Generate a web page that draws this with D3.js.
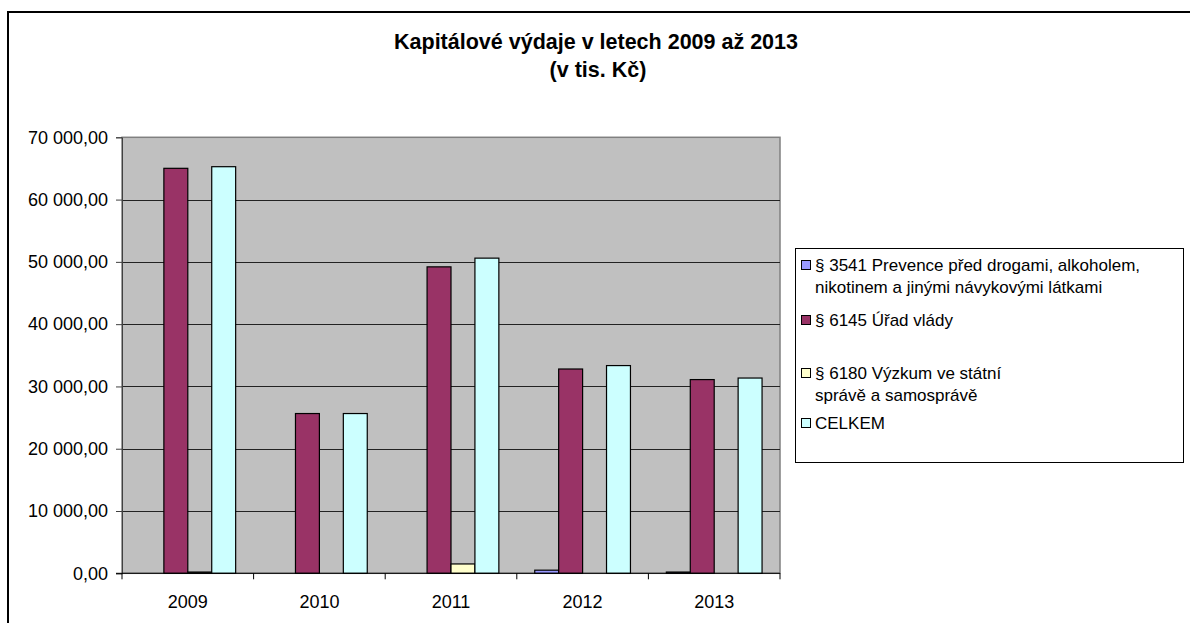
<!DOCTYPE html>
<html>
<head>
<meta charset="utf-8">
<script src="https://cdn.jsdelivr.net/npm/d3@7"></script>
<style>
  body { margin: 0; background: #fff; }
  text { font-family: "Liberation Sans", Arial, sans-serif; fill: #000; }
</style>
</head>
<body>
<script>
var width = 1190, height = 623;

// data
var years = ["2009", "2010", "2011", "2012", "2013"];
var seriesNames = [
  ["§ 3541 Prevence před drogami, alkoholem,", "nikotinem a jinými návykovými látkami"],
  ["§ 6145 Úřad vlády"],
  ["§ 6180 Výzkum ve státní", "správě a samosprávě"],
  ["CELKEM"]
];
var prevence = [0, 0, 0, 500, 200];
var uradVlady = [65020, 25650, 49200, 32800, 31100];
var vyzkum = [200, 0, 1500, 0, 0];
var celkem = [65280, 25650, 50600, 33350, 31350];
var yTicks = [0, 10000, 20000, 30000, 40000, 50000, 60000, 70000];
var colors = ["#9999ff", "#993366", "#ffffcc", "#ccffff"];

var seriesValues = [prevence, uradVlady, vyzkum, celkem];

var svg = d3.select("body").append("svg")
    .attr("width", width)
    .attr("height", height);

// outer chart frame
svg.append("rect")
    .attr("x", 8).attr("y", 12)
    .attr("width", 1200).attr("height", 700)
    .attr("fill", "#fff")
    .attr("stroke", "#000")
    .attr("stroke-width", 2);

var plotLeft = 122, plotRight = 780, plotTop = 137.3, plotBottom = 573.3;

var xScale = d3.scaleBand().domain(years).range([plotLeft, plotRight]).paddingInner(0).paddingOuter(0);
var xInner = d3.scaleBand().domain(d3.range(4)).range([0, xScale.bandwidth()]).paddingInner(0).paddingOuter(0.75);
var yScale = d3.scaleLinear().domain([0, 70000]).range([plotBottom, plotTop]);

var cz = d3.formatLocale({decimal: ",", thousands: " ", grouping: [3], currency: ["", ""]});
var fmt = cz.format(",.2f");

// plot area
svg.append("rect")
    .attr("x", plotLeft).attr("y", plotTop)
    .attr("width", plotRight - plotLeft).attr("height", plotBottom - plotTop)
    .attr("fill", "#c0c0c0")
    .attr("stroke", "#808080")
    .attr("stroke-width", 1.5);

// gridlines
svg.append("g").selectAll("line")
    .data(yTicks.filter(function(d) { return d > 0 && d < 70000; }))
    .enter().append("line")
    .attr("x1", plotLeft).attr("x2", plotRight)
    .attr("y1", function(d) { return Math.round(yScale(d)) + 0.5; })
    .attr("y2", function(d) { return Math.round(yScale(d)) + 0.5; })
    .attr("stroke", "#222")
    .attr("stroke-width", 1);

// bars
var groups = svg.append("g").selectAll("g")
    .data(years)
    .enter().append("g")
    .attr("transform", function(d) { return "translate(" + xScale(d) + ",0)"; });

groups.selectAll("rect")
    .data(function(d, i) { return seriesValues.map(function(s, k) { return {k: k, v: s[i]}; }).filter(function(e) { return e.v > 0; }); })
    .enter().append("rect")
    .attr("x", function(d) { return xInner(d.k); })
    .attr("width", xInner.bandwidth())
    .attr("y", function(d) { return yScale(d.v); })
    .attr("height", function(d) { return plotBottom - yScale(d.v); })
    .attr("fill", function(d) { return colors[d.k]; })
    .attr("stroke", "#000")
    .attr("stroke-width", 1.2);

// y axis
var yAxis = svg.append("g")
    .attr("transform", "translate(" + plotLeft + ",0)")
    .call(d3.axisLeft(yScale).tickValues(yTicks).tickFormat(fmt).tickSize(6).tickPadding(8));
yAxis.select(".domain").attr("stroke", "#404040");
yAxis.selectAll(".tick line").attr("stroke", "#404040");
yAxis.selectAll("text").style("font-size", "18px").attr("fill", "#000");

// x axis
var xAxis = svg.append("g")
    .attr("transform", "translate(0," + plotBottom + ")")
    .call(d3.axisBottom(xScale).tickSize(0).tickPadding(0));
xAxis.select(".domain").remove();
xAxis.append("line")
    .attr("x1", plotLeft - 6).attr("x2", plotRight)
    .attr("stroke", "#000");
xAxis.selectAll(".boundary")
    .data(years.concat(["end"]))
    .enter().append("line")
    .attr("class", "boundary")
    .attr("x1", function(d, i) { return i < years.length ? xScale(d) : plotRight; })
    .attr("x2", function(d, i) { return i < years.length ? xScale(d) : plotRight; })
    .attr("y1", 0).attr("y2", 6)
    .attr("stroke", "#000");
xAxis.selectAll(".tick text")
    .attr("y", 35)
    .attr("dy", 0)
    .style("font-size", "18px")
    .attr("fill", "#000");

// title
var title = svg.append("text")
    .attr("text-anchor", "middle")
    .style("font-size", "21.5px")
    .style("font-weight", "bold");
title.append("tspan").attr("x", 596).attr("y", 49).text("Kapitálové výdaje v letech 2009 až 2013");
title.append("tspan").attr("x", 598).attr("y", 77).text("(v tis. Kč)");

// legend
var legend = svg.append("g");
legend.append("rect")
    .attr("x", 795.5).attr("y", 248.5)
    .attr("width", 388).attr("height", 214)
    .attr("fill", "#fff")
    .attr("stroke", "#000");

var legendY = [265, 320, 373, 423];
var items = legend.selectAll(".item")
    .data(seriesNames)
    .enter().append("g")
    .attr("class", "item");

items.append("rect")
    .attr("x", 801.5).attr("y", function(d, i) { return legendY[i] - 4.5; })
    .attr("width", 9).attr("height", 9)
    .attr("fill", function(d, i) { return colors[i]; })
    .attr("stroke", "#000");

items.append("text")
    .style("font-size", "17px")
    .selectAll("tspan")
    .data(function(d, i) { return d.map(function(t, j) { return {t: t, y: legendY[i] + j * 21.5 + 6}; }); })
    .enter().append("tspan")
    .attr("x", 815)
    .attr("y", function(d) { return d.y; })
    .text(function(d) { return d.t; });
</script>
</body>
</html>
